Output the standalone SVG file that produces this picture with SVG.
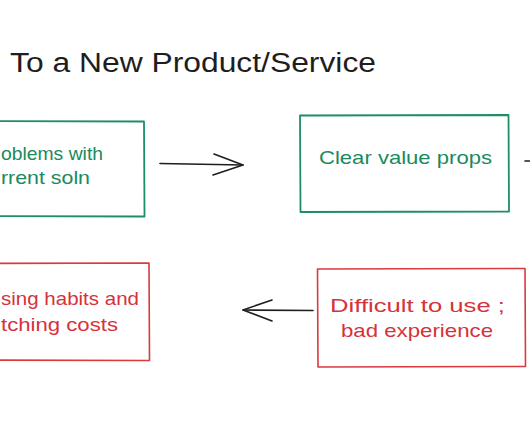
<svg xmlns="http://www.w3.org/2000/svg" width="530" height="442" viewBox="0 0 530 442">
<defs>
<style>
.bg{fill:#ffffff}
.title{font-family:"Liberation Sans","DejaVu Sans",sans-serif;font-size:27px;fill:#1e1e1e}
.gtxt{font-family:"Liberation Sans","DejaVu Sans",sans-serif;font-size:19px;fill:#1a8a5e}
.rtxt{font-family:"Liberation Sans","DejaVu Sans",sans-serif;font-size:19px;fill:#d6323a}
.gbox{fill:none;stroke:#1f8f63;stroke-width:1.8;stroke-linejoin:round}
.rbox{fill:none;stroke:#d9393f;stroke-width:1.6;stroke-linejoin:round}
.conn{fill:none;stroke:#1e1e1e;stroke-width:1.6;stroke-linecap:round;stroke-linejoin:round}
</style>
</defs>
<rect class="bg" x="0" y="0" width="530" height="442"/>
<text class="title" x="10" y="72" textLength="366" lengthAdjust="spacingAndGlyphs">To a New Product/Service</text>

<g id="node-problems">
<path class="gbox" d="M-60 121 L144 121.5 L144.5 216.5 L-60 216"/>
<text class="gtxt" x="1" y="160" textLength="102" lengthAdjust="spacingAndGlyphs">oblems with</text>
<text class="gtxt" x="1" y="184" textLength="89" lengthAdjust="spacingAndGlyphs">rrent soln</text>
</g>

<g id="node-value">
<path class="gbox" d="M300 115.5 L508.5 115 L509 211.5 L300.5 212 Z"/>
<text class="gtxt" x="319" y="164" textLength="173" lengthAdjust="spacingAndGlyphs">Clear value props</text>
</g>

<g id="node-difficult">
<path class="rbox" d="M317.5 269 L525 268.5 L525.5 366.5 L318 367 Z"/>
<text class="rtxt" x="330" y="312" textLength="175" lengthAdjust="spacingAndGlyphs">Difficult to use ;</text>
<text class="rtxt" x="341" y="337" textLength="152" lengthAdjust="spacingAndGlyphs">bad experience</text>
</g>

<g id="node-habits">
<path class="rbox" d="M-60 263.5 L149 263 L149.5 360.5 L-60 360"/>
<text class="rtxt" x="1" y="305" textLength="138" lengthAdjust="spacingAndGlyphs">sing habits and</text>
<text class="rtxt" x="1" y="331" textLength="117" lengthAdjust="spacingAndGlyphs">tching costs</text>
</g>

<g id="connectors">
<path class="conn" d="M160 163.5 L243 165"/>
<path class="conn" d="M214 154 L243 165 L213 175"/>
<path class="conn" d="M525 161 L532 161"/>
<path class="conn" d="M313 310.5 L243 310"/>
<path class="conn" d="M272 300 L243 310 L272 321"/>
</g>
</svg>
